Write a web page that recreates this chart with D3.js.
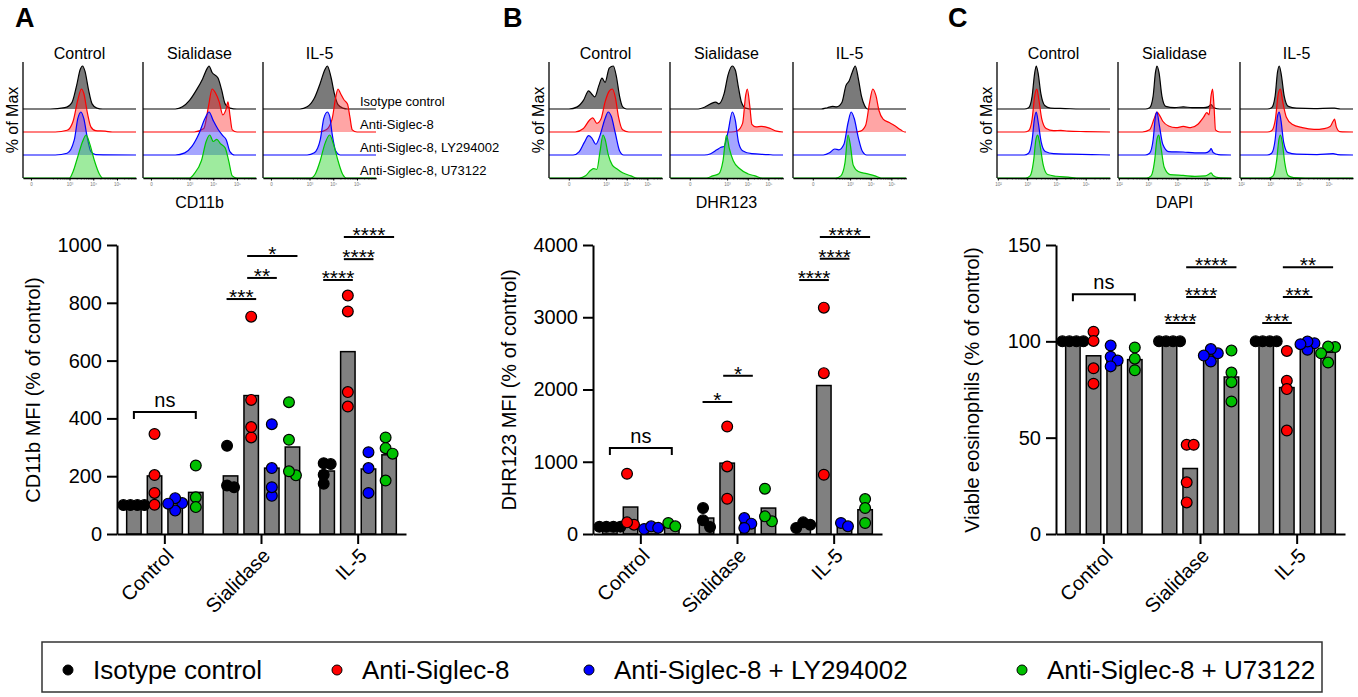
<!DOCTYPE html>
<html lang="en">
<head>
<meta charset="UTF-8">
<script src="https://cdn.jsdelivr.net/npm/d3@7"></script>
<title>siglec-8 panels</title>
<style>
  body { margin: 0; background: #fff; }
  text { font-family: "Liberation Sans", Arial, sans-serif; fill: #000; }
</style>
</head>
<body>
<svg id="fig" width="1358" height="697"></svg>
<script>
// ---------- data ----------
const groups = ["Control", "Sialidase", "IL-5"];
const seriesNames = ["Isotype control", "Anti-Siglec-8", "Anti-Siglec-8 + LY294002", "Anti-Siglec-8 + U73122"];
const rowNames = ["Isotype control", "Anti-Siglec-8", "Anti-Siglec-8, LY294002", "Anti-Siglec-8, U73122"];

// bar heights (mean) per group, per series
const cd11bMeans = [[100, 201, 106, 144], [201, 479, 228, 301], [218, 631, 225, 274]];
const dhrMeans   = [[100, 373, 90, 129], [221, 981, 152, 359], [130, 2055, 106, 336]];
const viabMeans  = [[100, 92.5, 91.5, 90.5], [100, 34, 93, 81.5], [100, 76, 98, 94.3]];

// individual donors
const cd11bPoints = [
  [[100, 100, 100, 100], [101, 346, 204, 142], [107, 81, 124, 105], [237, 127, 93]],
  [[305, 168, 162], [334, 752, 464, 370], [132, 228, 380, 162], [203, 456, 326, 217]],
  [[245, 174, 242, 205], [825, 441, 770, 491], [283, 228, 142], [334, 297, 278, 185]]
];
const dhrPoints = [
  [[100, 100, 100, 100], [129, 834, 161], [69, 106, 85], [152, 106]],
  [[359, 97, 189], [1488, 935, 488], [221, 143, 83], [627, 175, 244]],
  [[161, 83, 129], [3133, 2226, 820], [152, 106], [484, 359, 152]]
];
const viabPoints = [
  [[100, 100, 100, 100], [105, 100.2, 86, 78], [97.8, 92, 90, 87], [96.8, 91, 85]],
  [[100, 100, 100, 100], [46.3, 46.3, 26.8, 16.4], [93.8, 89.5, 96, 92.6], [83.8, 95.2, 78.8, 68.8]],
  [[100, 100, 100, 100], [79.5, 95, 75.2, 53.7], [99, 95.6, 99.9, 98.5], [97, 89, 97.3, 93.8]]
];

// comparisons: group, series a, series b, label, level (data units)
const cd11bSig = [
  ["Sialidase", 0, 1, "***", 813], ["Sialidase", 1, 2, "**", 886], ["Sialidase", 1, 3, "*", 962],
  ["IL-5", 0, 1, "****", 879], ["IL-5", 1, 2, "****", 951], ["IL-5", 1, 3, "****", 1028]
];
const dhrSig = [
  ["Sialidase", 0, 1, "*", 1827], ["Sialidase", 1, 2, "*", 2190],
  ["IL-5", 0, 1, "****", 3515], ["IL-5", 1, 2, "****", 3810], ["IL-5", 1, 3, "****", 4110]
];
const viabSig = [
  ["Sialidase", 0, 1, "****", 109.5], ["Sialidase", 1, 2, "****", 123], ["Sialidase", 1, 3, "****", 138.5],
  ["IL-5", 0, 1, "***", 109.5], ["IL-5", 1, 2, "***", 123], ["IL-5", 1, 3, "**", 138.5]
];
const nsLevels = [422, 1190, 124.5];

// flow histograms: [log decade, % of max], rows = isotype, anti, +LY, +U7
const histCD11b = [
  [ [[1.04,0],[2.2,0],[2.8,3],[3.1,15],[3.3,55],[3.45,92],[3.55,100],[3.65,88],[3.8,45],[3.95,12],[4.15,2],[4.4,0],[5.8,0]],
    [[1.04,0],[2.4,0],[2.9,4],[3.15,25],[3.35,75],[3.5,100],[3.6,90],[3.75,45],[3.9,12],[4.1,3],[4.5,2],[4.8,0],[5.8,0]],
    [[1.04,0],[2.4,0],[2.9,4],[3.2,35],[3.35,85],[3.48,100],[3.6,85],[3.75,40],[3.9,8],[4.1,1],[5.8,0]],
    [[1.04,0],[3.0,0],[3.15,15],[3.35,50],[3.55,85],[3.7,100],[3.85,80],[4.05,40],[4.25,10],[4.4,0],[5.8,0]] ],
  [ [[1.04,0],[2.4,0],[2.7,5],[3.0,20],[3.3,45],[3.55,70],[3.75,95],[3.82,100],[3.95,85],[4.2,72],[4.35,45],[4.5,12],[4.7,2],[5.0,0],[5.8,0]],
    [[1.04,0],[3.2,0],[3.6,8],[3.8,60],[3.95,100],[4.1,90],[4.25,70],[4.4,40],[4.55,55],[4.62,70],[4.7,40],[4.8,5],[5.0,0],[5.8,0]],
    [[1.04,0],[2.4,0],[2.8,5],[3.1,20],[3.4,50],[3.65,85],[3.82,100],[4.0,80],[4.2,60],[4.4,45],[4.55,35],[4.7,8],[4.9,0],[5.8,0]],
    [[1.04,0],[3.0,0],[3.2,10],[3.5,40],[3.7,85],[3.85,100],[4.0,85],[4.15,90],[4.3,80],[4.5,70],[4.65,40],[4.8,5],[5.0,0],[5.8,0]] ],
  [ [[1.04,0],[2.6,0],[2.9,5],[3.2,25],[3.45,60],[3.65,92],[3.75,100],[3.9,75],[4.05,35],[4.2,10],[4.4,2],[4.6,0],[5.8,0]],
    [[1.04,0],[3.4,0],[3.7,5],[3.95,30],[4.1,80],[4.2,100],[4.3,90],[4.45,75],[4.6,65],[4.7,35],[4.8,5],[5.0,0],[5.8,0]],
    [[1.04,0],[2.9,0],[3.2,5],[3.45,35],[3.6,85],[3.75,100],[3.85,90],[3.95,50],[4.1,10],[4.3,0],[5.8,0]],
    [[1.04,0],[3.05,0],[3.25,10],[3.45,40],[3.65,80],[3.85,100],[4.0,80],[4.2,40],[4.4,8],[4.55,0],[5.8,0]] ]
];
const histDHR = [
  [ [[0.23,0],[1.2,0],[1.6,5],[1.9,20],[2.15,42],[2.3,35],[2.45,28],[2.65,55],[2.8,72],[2.95,62],[3.15,95],[3.35,100],[3.5,75],[3.65,30],[3.8,5],[4.0,0],[5.71,0]],
    [[0.23,0],[1.5,0],[1.9,8],[2.2,28],[2.35,33],[2.55,20],[2.75,30],[2.95,70],[3.15,95],[3.3,100],[3.45,80],[3.6,35],[3.8,5],[4.1,0],[5.71,0]],
    [[0.23,0],[1.4,0],[1.7,8],[1.95,30],[2.15,45],[2.3,40],[2.5,25],[2.7,45],[2.95,85],[3.1,100],[3.25,90],[3.45,50],[3.65,10],[3.85,0],[5.71,0]],
    [[0.23,0],[1.7,0],[2.0,5],[2.25,18],[2.4,22],[2.55,20],[2.7,60],[2.85,100],[2.95,90],[3.1,55],[3.3,30],[3.5,22],[3.8,12],[4.2,5],[4.5,0],[5.71,0]] ],
  [ [[0.23,0],[1.6,0],[1.9,4],[2.2,12],[2.45,16],[2.6,12],[2.85,35],[3.05,80],[3.25,100],[3.4,90],[3.55,50],[3.7,15],[3.9,2],[4.2,0],[5.71,0]],
    [[0.23,0],[3.2,0],[3.5,3],[3.75,20],[3.9,85],[3.98,100],[4.1,60],[4.2,18],[4.4,12],[4.65,13],[4.85,12],[5.1,8],[5.4,2],[5.71,0]],
    [[0.23,0],[1.9,0],[2.2,3],[2.5,12],[2.7,18],[2.85,20],[3.05,55],[3.25,100],[3.4,80],[3.55,30],[3.75,10],[4.2,3],[5.0,1],[5.3,0],[5.71,0]],
    [[0.23,0],[2.0,0],[2.3,5],[2.6,10],[2.8,40],[2.97,100],[3.1,70],[3.3,40],[3.6,22],[4.0,10],[4.35,5],[4.7,0],[5.71,0]] ],
  [ [[0.23,0],[1.6,0],[1.9,3],[2.15,6],[2.35,5],[2.6,15],[2.8,55],[2.95,65],[3.1,85],[3.25,100],[3.4,70],[3.55,30],[3.7,8],[3.85,0],[5.71,0]],
    [[0.23,0],[3.2,0],[3.5,2],[3.75,15],[3.95,70],[4.1,100],[4.25,85],[4.4,50],[4.6,30],[4.9,22],[5.15,15],[5.45,5],[5.65,0],[5.71,0]],
    [[0.23,0],[1.7,0],[2.0,5],[2.25,14],[2.45,12],[2.7,25],[2.9,75],[3.05,100],[3.2,85],[3.4,40],[3.6,8],[3.8,0],[5.71,0]],
    [[0.23,0],[2.3,0],[2.55,5],[2.75,35],[2.9,100],[3.0,80],[3.15,30],[3.4,15],[3.8,10],[4.2,5],[4.5,0],[5.71,0]] ]
];
const histDAPI = [
  [ [[1.97,0],[2.9,0],[3.05,3],[3.17,30],[3.25,80],[3.31,100],[3.37,85],[3.47,35],[3.6,8],[3.8,2],[4.3,1],[4.8,0],[5.83,0]],
    [[1.97,0],[2.9,0],[3.05,3],[3.17,30],[3.26,85],[3.33,100],[3.4,75],[3.5,30],[3.65,8],[3.9,3],[4.15,4],[4.4,2],[5.0,1],[5.83,0]],
    [[1.97,0],[2.9,0],[3.05,4],[3.17,35],[3.25,85],[3.31,100],[3.38,75],[3.48,30],[3.62,8],[3.9,3],[4.5,2],[5.2,1],[5.83,0]],
    [[1.97,0],[2.95,0],[3.1,5],[3.22,40],[3.3,90],[3.36,100],[3.43,80],[3.55,30],[3.7,8],[4.0,4],[4.4,2],[4.8,0],[5.83,0]] ],
  [ [[1.97,0],[2.9,0],[3.05,3],[3.17,30],[3.25,85],[3.3,100],[3.37,85],[3.47,30],[3.6,6],[3.9,3],[4.2,5],[4.5,3],[4.9,3],[5.05,5],[5.15,10],[5.25,3],[5.45,0],[5.83,0]],
    [[1.97,0],[2.8,0],[3.05,5],[3.2,30],[3.3,46],[3.38,40],[3.5,25],[3.7,14],[3.95,10],[4.2,13],[4.45,10],[4.7,18],[4.9,35],[5.0,45],[5.08,40],[5.15,85],[5.2,100],[5.25,60],[5.3,5],[5.45,0],[5.83,0]],
    [[1.97,0],[2.9,0],[3.05,4],[3.17,35],[3.25,90],[3.3,100],[3.38,70],[3.5,25],[3.7,8],[4.2,7],[4.6,5],[4.95,5],[5.1,10],[5.15,15],[5.22,6],[5.4,1],[5.83,0]],
    [[1.97,0],[2.95,0],[3.1,5],[3.22,40],[3.3,90],[3.36,100],[3.43,75],[3.55,25],[3.75,8],[4.2,6],[4.6,4],[4.95,5],[5.1,10],[5.15,12],[5.22,6],[5.4,1],[5.83,0]] ],
  [ [[1.97,0],[2.9,0],[3.05,3],[3.17,30],[3.25,85],[3.31,100],[3.38,80],[3.48,30],[3.62,6],[3.9,2],[4.5,1],[5.1,2],[5.2,2],[5.4,0],[5.83,0]],
    [[1.97,0],[2.9,0],[3.05,3],[3.18,30],[3.28,90],[3.35,100],[3.43,70],[3.55,35],[3.75,18],[4.1,10],[4.5,6],[4.85,8],[5.05,13],[5.15,25],[5.2,30],[5.26,12],[5.38,1],[5.83,0]],
    [[1.97,0],[2.9,0],[3.05,4],[3.17,35],[3.25,90],[3.31,100],[3.37,80],[3.46,30],[3.6,6],[3.9,2],[4.6,1],[5.15,3],[5.3,1],[5.83,0]],
    [[1.97,0],[2.95,0],[3.1,5],[3.22,40],[3.3,90],[3.35,100],[3.42,80],[3.5,35],[3.62,5],[3.8,1],[4.2,0],[5.83,0]] ]
];

// ---------- styling ----------
const dotColors = ["#000000", "#ff0000", "#0000ff", "#00c000"];
const histStroke = ["#000000", "#ff0000", "#0000ff", "#00c800"];
const histFill = ["rgba(70,70,70,0.72)", "rgba(255,40,40,0.42)", "rgba(40,40,255,0.42)", "rgba(40,210,40,0.45)"];

let svg = d3.select("#fig");

// ---------- panel letters ----------
[["A", 15], ["B", 503], ["C", 948]].forEach(([t, x]) => {
  svg.append("text").attr("x", x).attr("y", 27).text(t)
    .style("font-size", "27px").style("font-weight", "bold");
});

// ---------- histograms ----------
function histPanel(boxX, domain, ticks, curves, label, showRowNames) {
  const boxW = 113, top = 62, bottom = 178;
  const rowBase = d3.scaleLinear().domain([0, 3]).range([109, bottom]);
  const h = d3.scaleLinear().domain([0, 100]).range([0, 43]);

  svg.append("text").attr("x", boxX[0] - 11).attr("y", 120)
    .attr("transform", `rotate(-90, ${boxX[0] - 11}, 120)`)
    .attr("text-anchor", "middle").attr("dy", "0.35em")
    .style("font-size", "16px").text("% of Max");

  boxX.forEach((bx, gi) => {
    const x = d3.scaleLinear().domain(domain).range([bx, bx + boxW]);
    const g = svg.append("g");

    g.append("text").attr("x", bx + boxW / 2).attr("y", 59).attr("text-anchor", "middle")
      .style("font-size", "16px").text(groups[gi]);

    curves[gi].forEach((pts, r) => {
      const base = rowBase(r);
      const area = d3.area().x(d => x(d[0])).y0(base).y1(d => base - h(d[1])).curve(d3.curveMonotoneX);
      const line = d3.line().x(d => x(d[0])).y(d => base - h(d[1])).curve(d3.curveMonotoneX);
      g.append("path").attr("d", area(pts)).attr("fill", histFill[r]);
      g.append("path").attr("d", line(pts)).attr("fill", "none")
        .attr("stroke", histStroke[r]).attr("stroke-width", 1.2);
    });

    // axes
    g.append("line").attr("x1", bx).attr("x2", bx).attr("y1", top).attr("y2", bottom)
      .attr("stroke", "#000").attr("stroke-width", 1.3);
    const minor = [];
    for (let d = Math.ceil(domain[0]); d < domain[1]; d++) {
      for (let k = 2; k < 10; k++) {
        const v = d + Math.log10(k);
        if (v > domain[0] && v < domain[1] && d >= 2) minor.push(v);
      }
    }
    const ax = g.append("g").attr("transform", `translate(0,${bottom})`)
      .call(d3.axisBottom(x).tickValues(minor).tickSize(1.5).tickFormat("").tickSizeOuter(0));
    ax.select(".domain").attr("stroke-width", 1.3);
    ax.selectAll(".tick line").attr("stroke-width", 0.6);
    const axMaj = g.append("g").attr("transform", `translate(0,${bottom})`)
      .call(d3.axisBottom(x).tickValues(ticks.map(t => t[0])).tickSize(2.5)
        .tickFormat((d, i) => ticks[i][1]).tickPadding(2).tickSizeOuter(0));
    axMaj.select(".domain").remove();
    axMaj.selectAll(".tick text").style("font-size", "4.5px").style("fill", "#777");

    if (showRowNames && gi === 2) {
      rowNames.forEach((n, r) => {
        svg.append("text").attr("x", bx + 97).attr("y", rowBase(r) - 3)
          .style("font-size", "13px").text(n);
      });
    }
  });

  svg.append("text").attr("x", boxX[1] + boxW / 2).attr("y", 208).attr("text-anchor", "middle")
    .style("font-size", "16px").text(label);
}

const ticksA = [[1.375, "0"], [3, "10³"], [4, "10⁴"], [5, "10⁵"]];
const ticksB = [[1.19, "0"], [3, "10³"], [4, "10⁴"], [5, "10⁵"]];
const ticksC = [[2, "10²"], [3, "10³"], [4, "10⁴"], [5, "10⁵"]];

histPanel([23, 143, 263], [1.04, 5.8], ticksA, histCD11b, "CD11b", true);
histPanel([549, 670, 793], [0.23, 5.71], ticksB, histDHR, "DHR123", false);
histPanel([997, 1118, 1240], [1.97, 5.83], ticksC, histDAPI, "DAPI", false);

// ---------- bar + scatter panels ----------
// greedy beeswarm: nearest free slot to the column centre, then re-centred
function spread(vals, y, step, minDist) {
  const idx = d3.range(vals.length).sort((a, b) => vals[b] - vals[a]);
  const off = new Array(vals.length).fill(0);
  const placed = [];
  idx.forEach(k => {
    const cy = y(vals[k]);
    for (let n = 0; n < 12; n++) {
      const o = (n % 2 ? 1 : -1) * Math.ceil(n / 2) * step;
      if (placed.every(p => Math.hypot(p[0] - o, p[1] - cy) >= minDist)) {
        off[k] = o; placed.push([o, cy]); break;
      }
    }
  });
  const mid = (d3.max(off) + d3.min(off)) / 2;
  return off.map(o => o - mid);
}

function barPanel(ox, means, points, yMax, yTicks, yLabel, sig, nsLevel) {
  const x0 = d3.scaleBand().domain(groups).range([ox, ox + 289]).paddingInner(0.21).paddingOuter(0.1);
  const x1 = d3.scaleBand().domain(d3.range(4)).range([0, x0.bandwidth()]).paddingInner(0.3).paddingOuter(0);
  const y = d3.scaleLinear().domain([0, yMax]).range([534, 245]);
  const cx = (g, i) => x0(g) + x1(i) + x1.bandwidth() / 2;
  const g = svg.append("g");

  // bars
  groups.forEach((grp, gi) => {
    means[gi].forEach((m, si) => {
      g.append("rect").attr("x", x0(grp) + x1(si)).attr("y", y(m))
        .attr("width", x1.bandwidth()).attr("height", y(0) - y(m))
        .attr("fill", "#808080").attr("stroke", "#000").attr("stroke-width", 1.5);
    });
  });

  // axes
  const yAx = g.append("g").attr("transform", `translate(${ox},0)`)
    .call(d3.axisLeft(y).tickValues(yTicks).tickFormat(d3.format("d"))
      .tickSize(10).tickPadding(5).tickSizeOuter(0));
  const xAx = g.append("g").attr("transform", `translate(0,${y(0)})`)
    .call(d3.axisBottom(x0).tickSize(10).tickSizeOuter(0));
  [yAx, xAx].forEach(a => {
    a.select(".domain").attr("stroke-width", 2);
    a.selectAll(".tick line").attr("stroke-width", 2);
    a.selectAll(".tick text").style("font-size", "20px").style("font-family", "Liberation Sans, Arial, sans-serif");
  });
  xAx.selectAll(".tick text").attr("x", 0).attr("y", 0).attr("dy", "0.35em")
    .attr("text-anchor", "end").attr("transform", "translate(5,18) rotate(-45)");

  g.append("text").attr("transform", `translate(${ox - 84},390) rotate(-90)`)
    .attr("text-anchor", "middle").attr("dy", "0.35em").style("font-size", "20px").text(yLabel);

  // dots
  groups.forEach((grp, gi) => {
    points[gi].forEach((vals, si) => {
      const off = spread(vals, y, 7, 7);
      vals.forEach((v, k) => {
        g.append("circle").attr("cx", cx(grp, si) + off[k]).attr("cy", y(v)).attr("r", 5.4)
          .attr("fill", dotColors[si]).attr("stroke", "#000").attr("stroke-width", 1.2);
      });
    });
  });

  // ns bracket
  const yn = y(nsLevel), a0 = cx("Control", 0), a3 = cx("Control", 3);
  g.append("path").attr("d", `M${a0},${yn + 7}V${yn}H${a3}V${yn + 7}`)
    .attr("fill", "none").attr("stroke", "#000").attr("stroke-width", 2);
  g.append("text").attr("x", (a0 + a3) / 2).attr("y", yn - 5).attr("text-anchor", "middle")
    .style("font-size", "20px").text("ns");

  // significance lines
  sig.forEach(([grp, a, b, lab, lvl]) => {
    const xa = cx(grp, a) - 4, xb = cx(grp, b) + 5, yy = y(lvl);
    g.append("line").attr("x1", xa).attr("x2", xb).attr("y1", yy).attr("y2", yy)
      .attr("stroke", "#000").attr("stroke-width", 2);
    g.append("text").attr("x", (xa + xb) / 2).attr("y", yy + 5).attr("text-anchor", "middle")
      .style("font-size", "21px").text(lab);
  });
}

barPanel(117, cd11bMeans, cd11bPoints, 1000, [0, 200, 400, 600, 800, 1000], "CD11b MFI (% of control)", cd11bSig, nsLevels[0]);
barPanel(593, dhrMeans, dhrPoints, 4000, [0, 1000, 2000, 3000, 4000], "DHR123 MFI (% of control)", dhrSig, nsLevels[1]);
barPanel(1056, viabMeans, viabPoints, 150, [0, 50, 100, 150], "Viable eosinophils (% of control)", viabSig, nsLevels[2]);

// ---------- legend ----------
const leg = svg.append("g");
leg.append("rect").attr("x", 42).attr("y", 642).attr("width", 1280).attr("height", 50)
  .attr("fill", "none").attr("stroke", "#333").attr("stroke-width", 1.5);
const legX = [68, 337, 589, 1022];
seriesNames.forEach((n, i) => {
  leg.append("circle").attr("cx", legX[i]).attr("cy", 670).attr("r", 5)
    .attr("fill", dotColors[i]).attr("stroke", "#000").attr("stroke-width", 1);
  leg.append("text").attr("x", legX[i] + 25).attr("y", 679).style("font-size", "26px").text(n);
});
</script>
</body>
</html>
